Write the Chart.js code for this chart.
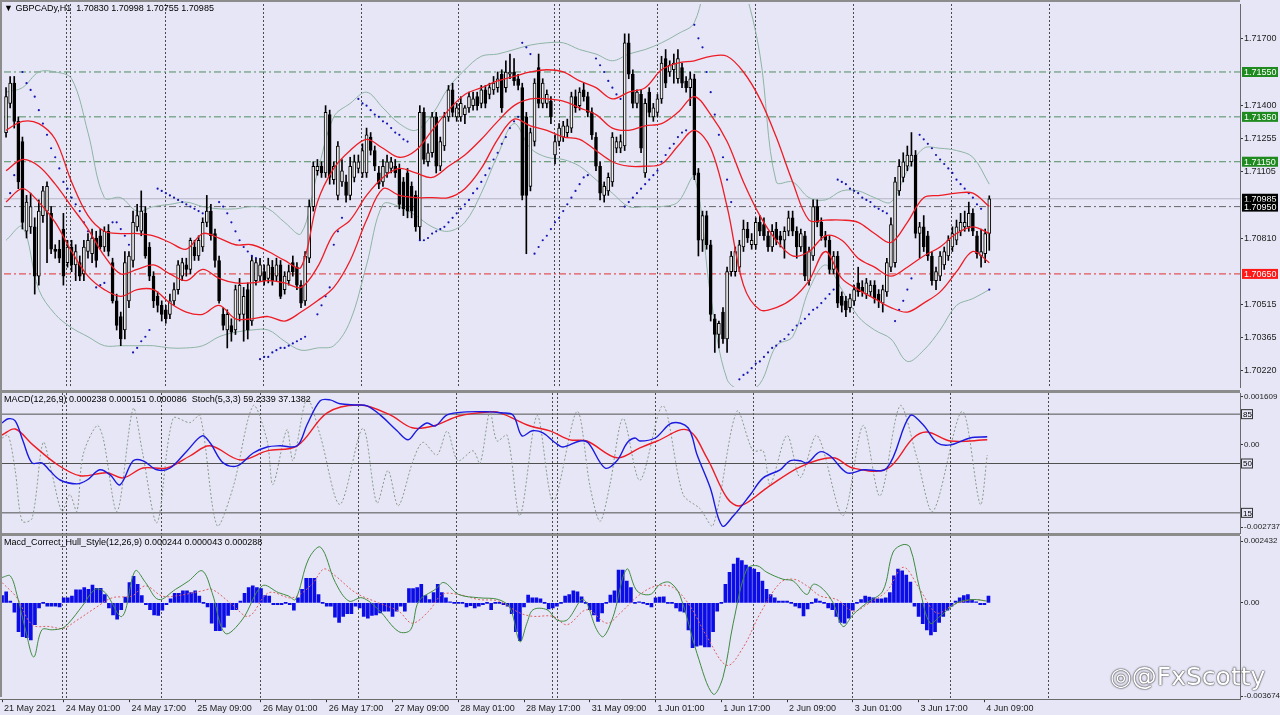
<!DOCTYPE html>
<html>
<head>
<meta charset="utf-8">
<script src="https://cdn.jsdelivr.net/npm/chart.js@4.4.0/dist/chart.umd.min.js"></script>
<style>
body { margin:0; background:#e6e6f6; width:1280px; height:715px; overflow:hidden; position:relative; font-family:'Liberation Sans', sans-serif; }
canvas { position:absolute; left:0; }
#c1 { top:0; } #c2 { top:393px; } #c3 { top:536px; }
.sep { position:absolute; left:0; width:1240px; height:2px; background:#8c8c8c; }
.ttl { position:absolute; left:4px; font-size:9px; color:#000; white-space:pre; z-index:5; }
#mark { position:absolute; left:1110px; top:662px; font-size:25px; color:#fff; font-family:'DejaVu Sans',sans-serif; text-shadow:0 0 2px #333, 0 0 1px #000; z-index:5; }
</style>
</head>
<body>
<div class="sep" style="top:0;height:2px"></div>
<div class="sep" style="top:390px;height:3px"></div>
<div class="sep" style="top:533px;height:3px"></div>
<div style="position:absolute;left:0;top:0;width:2px;height:697px;background:#8c8c8c;z-index:4"></div>
<canvas id="c1" width="1280" height="391"></canvas>
<canvas id="c2" width="1280" height="141"></canvas>
<canvas id="c3" width="1280" height="179"></canvas>
<div class="ttl" style="top:3px">▼ GBPCADy,H1  1.70830 1.70998 1.70755 1.70985</div>
<div class="ttl" style="top:394px">MACD(12,26,9) 0.000238 0.000151 0.000086  Stoch(5,3,3) 59.2339 37.1382</div>
<div class="ttl" style="top:537px">Macd_Correct_Hull_Style(12,26,9) 0.000244 0.000043 0.000288</div>
<div id="mark">◎@FxScotty</div>
<script>
// H1 candles [open, high, low, close], one per bar
const candles = [
[1.7128,1.7148,1.7126,1.7144],[1.7141,1.7153,1.7139,1.7150],[1.7150,1.7153,1.7130,1.7133],[1.7133,1.7135,1.7103,1.7106],[1.7124,1.7126,1.7085,1.7088],
[1.7084,1.7100,1.7081,1.7097],[1.7086,1.7101,1.7083,1.7095],[1.7086,1.7090,1.7056,1.7064],[1.7064,1.7098,1.7060,1.7093],[1.7091,1.7104,1.7088,1.7102],
[1.7093,1.7106,1.7070,1.7104],[1.7092,1.7095,1.7074,1.7076],[1.7076,1.7078,1.7072,1.7075],[1.7076,1.7080,1.7070,1.7072],[1.7085,1.7092,1.7060,1.7064],
[1.7070,1.7080,1.7068,1.7077],[1.7077,1.7080,1.7066,1.7069],[1.7069,1.7078,1.7062,1.7075],[1.7070,1.7073,1.7062,1.7064],[1.7065,1.7080,1.7062,1.7077],
[1.7075,1.7083,1.7072,1.7080],[1.7074,1.7085,1.7070,1.7081],[1.7081,1.7084,1.7068,1.7071],[1.7082,1.7085,1.7076,1.7077],[1.7077,1.7086,1.7075,1.7084],
[1.7084,1.7087,1.7073,1.7075],[1.7070,1.7072,1.7052,1.7053],[1.7053,1.7056,1.7040,1.7042],[1.7046,1.7048,1.7033,1.7036],[1.7040,1.7075,1.7036,1.7070],
[1.7053,1.7075,1.7050,1.7073],[1.7071,1.7093,1.7068,1.7088],[1.7086,1.7096,1.7084,1.7091],[1.7084,1.7102,1.7082,1.7093],[1.7092,1.7095,1.7072,1.7073],
[1.7077,1.7079,1.7062,1.7064],[1.7064,1.7066,1.7050,1.7053],[1.7055,1.7057,1.7048,1.7051],[1.7051,1.7053,1.7044,1.7047],[1.7049,1.7051,1.7043,1.7045],
[1.7047,1.7056,1.7045,1.7053],[1.7053,1.7061,1.7051,1.7058],[1.7058,1.7071,1.7056,1.7069],[1.7064,1.7072,1.7062,1.7070],[1.7069,1.7072,1.7064,1.7067],
[1.7067,1.7081,1.7065,1.7080],[1.7077,1.7080,1.7071,1.7073],[1.7073,1.7082,1.7071,1.7080],[1.7077,1.7090,1.7075,1.7088],[1.7088,1.7100,1.7086,1.7093],
[1.7093,1.7096,1.7080,1.7082],[1.7083,1.7085,1.7068,1.7071],[1.7071,1.7073,1.7052,1.7053],[1.7047,1.7050,1.7040,1.7042],[1.7040,1.7049,1.7032,1.7047],
[1.7042,1.7045,1.7035,1.7039],[1.7040,1.7060,1.7038,1.7058],[1.7047,1.7063,1.7044,1.7060],[1.7047,1.7059,1.7035,1.7055],[1.7058,1.7061,1.7036,1.7040],
[1.7044,1.7073,1.7042,1.7071],[1.7062,1.7072,1.7060,1.7070],[1.7064,1.7072,1.7062,1.7069],[1.7066,1.7069,1.7060,1.7062],[1.7063,1.7072,1.7061,1.7069],
[1.7068,1.7071,1.7060,1.7062],[1.7064,1.7072,1.7062,1.7069],[1.7069,1.7071,1.7054,1.7055],[1.7058,1.7066,1.7056,1.7064],[1.7062,1.7069,1.7060,1.7066],
[1.7070,1.7073,1.7064,1.7066],[1.7068,1.7070,1.7058,1.7060],[1.7060,1.7062,1.7050,1.7052],[1.7053,1.7075,1.7051,1.7073],[1.7072,1.7098,1.7070,1.7095],
[1.7095,1.7115,1.7093,1.7113],[1.7111,1.7116,1.7109,1.7113],[1.7113,1.7115,1.7108,1.7110],[1.7110,1.7140,1.7108,1.7137],[1.7136,1.7138,1.7105,1.7108],
[1.7107,1.7115,1.7105,1.7113],[1.7100,1.7124,1.7098,1.7122],[1.7106,1.7116,1.7104,1.7111],[1.7106,1.7109,1.7097,1.7100],[1.7100,1.7117,1.7098,1.7113],
[1.7108,1.7118,1.7106,1.7115],[1.7112,1.7118,1.7110,1.7115],[1.7110,1.7123,1.7108,1.7120],[1.7110,1.7130,1.7108,1.7127],[1.7126,1.7128,1.7118,1.7120],
[1.7120,1.7122,1.7111,1.7113],[1.7110,1.7113,1.7103,1.7105],[1.7106,1.7116,1.7104,1.7113],[1.7110,1.7118,1.7108,1.7115],[1.7112,1.7117,1.7110,1.7115],
[1.7113,1.7116,1.7108,1.7110],[1.7112,1.7114,1.7094,1.7096],[1.7106,1.7108,1.7091,1.7094],[1.7110,1.7112,1.7090,1.7093],[1.7104,1.7106,1.7090,1.7093],
[1.7100,1.7102,1.7084,1.7086],[1.7086,1.7140,1.7080,1.7137],[1.7137,1.7139,1.7114,1.7116],[1.7115,1.7123,1.7113,1.7119],[1.7119,1.7137,1.7117,1.7135],
[1.7135,1.7137,1.7110,1.7113],[1.7113,1.7126,1.7111,1.7124],[1.7122,1.7137,1.7120,1.7135],[1.7135,1.7149,1.7133,1.7147],[1.7147,1.7150,1.7135,1.7137],
[1.7135,1.7141,1.7133,1.7139],[1.7135,1.7144,1.7133,1.7141],[1.7136,1.7140,1.7132,1.7139],[1.7139,1.7146,1.7137,1.7144],[1.7140,1.7146,1.7138,1.7143],
[1.7144,1.7146,1.7138,1.7140],[1.7141,1.7149,1.7139,1.7147],[1.7147,1.7149,1.7139,1.7141],[1.7145,1.7150,1.7143,1.7148],[1.7147,1.7153,1.7145,1.7150],
[1.7148,1.7155,1.7146,1.7152],[1.7154,1.7156,1.7137,1.7139],[1.7148,1.7160,1.7146,1.7155],[1.7154,1.7163,1.7152,1.7155],[1.7155,1.7161,1.7149,1.7151],
[1.7152,1.7154,1.7147,1.7149],[1.7148,1.7150,1.7098,1.7100],[1.7135,1.7137,1.7074,1.7100],[1.7104,1.7130,1.7102,1.7128],[1.7124,1.7152,1.7122,1.7150],
[1.7157,1.7163,1.7139,1.7141],[1.7141,1.7152,1.7139,1.7150],[1.7141,1.7147,1.7139,1.7145],[1.7142,1.7144,1.7132,1.7135],[1.7118,1.7127,1.7114,1.7124],
[1.7124,1.7132,1.7122,1.7130],[1.7126,1.7133,1.7124,1.7131],[1.7128,1.7134,1.7126,1.7131],[1.7130,1.7146,1.7128,1.7144],[1.7144,1.7147,1.7137,1.7139],
[1.7140,1.7148,1.7138,1.7146],[1.7147,1.7150,1.7142,1.7144],[1.7144,1.7146,1.7135,1.7137],[1.7137,1.7139,1.7125,1.7127],[1.7126,1.7128,1.7111,1.7113],
[1.7113,1.7115,1.7098,1.7101],[1.7100,1.7106,1.7097,1.7104],[1.7102,1.7110,1.7100,1.7108],[1.7106,1.7128,1.7104,1.7126],[1.7121,1.7126,1.7119,1.7124],
[1.7121,1.7127,1.7119,1.7124],[1.7122,1.7172,1.7120,1.7168],[1.7168,1.7172,1.7152,1.7154],[1.7154,1.7156,1.7139,1.7141],[1.7141,1.7147,1.7139,1.7146],
[1.7145,1.7147,1.7119,1.7121],[1.7110,1.7143,1.7108,1.7141],[1.7146,1.7148,1.7135,1.7137],[1.7135,1.7141,1.7133,1.7139],[1.7137,1.7145,1.7135,1.7143],
[1.7143,1.7162,1.7141,1.7159],[1.7161,1.7165,1.7148,1.7150],[1.7155,1.7160,1.7153,1.7158],[1.7156,1.7163,1.7150,1.7159],[1.7152,1.7165,1.7150,1.7161],
[1.7157,1.7159,1.7148,1.7150],[1.7151,1.7153,1.7146,1.7148],[1.7148,1.7155,1.7140,1.7152],[1.7152,1.7154,1.7107,1.7109],[1.7110,1.7112,1.7073,1.7080],
[1.7080,1.7093,1.7075,1.7091],[1.7091,1.7093,1.7076,1.7078],[1.7078,1.7080,1.7044,1.7047],[1.7045,1.7047,1.7030,1.7038],[1.7038,1.7044,1.7032,1.7043],
[1.7048,1.7050,1.7034,1.7036],[1.7036,1.7068,1.7030,1.7066],[1.7066,1.7075,1.7064,1.7073],[1.7066,1.7077,1.7064,1.7075],[1.7068,1.7080,1.7066,1.7078],
[1.7077,1.7089,1.7075,1.7085],[1.7085,1.7088,1.7079,1.7081],[1.7078,1.7083,1.7076,1.7080],[1.7078,1.7090,1.7076,1.7088],[1.7088,1.7091,1.7082,1.7084],
[1.7087,1.7090,1.7080,1.7082],[1.7082,1.7084,1.7075,1.7077],[1.7077,1.7087,1.7075,1.7084],[1.7085,1.7088,1.7078,1.7080],[1.7082,1.7084,1.7077,1.7080],
[1.7080,1.7086,1.7072,1.7084],[1.7084,1.7093,1.7082,1.7090],[1.7090,1.7093,1.7082,1.7084],[1.7084,1.7086,1.7072,1.7077],[1.7077,1.7085,1.7075,1.7083],
[1.7082,1.7084,1.7062,1.7064],[1.7062,1.7077,1.7060,1.7075],[1.7073,1.7098,1.7071,1.7095],[1.7095,1.7098,1.7086,1.7088],[1.7088,1.7090,1.7080,1.7082],
[1.7082,1.7084,1.7077,1.7080],[1.7080,1.7082,1.7065,1.7067],[1.7067,1.7075,1.7065,1.7073],[1.7073,1.7075,1.7050,1.7052],[1.7055,1.7057,1.7048,1.7051],
[1.7053,1.7055,1.7046,1.7049],[1.7050,1.7056,1.7048,1.7054],[1.7053,1.7060,1.7051,1.7058],[1.7061,1.7068,1.7055,1.7057],[1.7059,1.7062,1.7055,1.7057],
[1.7056,1.7063,1.7054,1.7061],[1.7057,1.7062,1.7055,1.7060],[1.7060,1.7062,1.7052,1.7054],[1.7056,1.7058,1.7050,1.7053],[1.7052,1.7060,1.7048,1.7058],
[1.7057,1.7072,1.7055,1.7070],[1.7068,1.7090,1.7066,1.7087],[1.7070,1.7108,1.7068,1.7106],[1.7102,1.7116,1.7100,1.7113],[1.7108,1.7119,1.7106,1.7115],
[1.7113,1.7122,1.7111,1.7118],[1.7115,1.7128,1.7113,1.7118],[1.7118,1.7120,1.7081,1.7083],[1.7083,1.7088,1.7072,1.7086],[1.7086,1.7091,1.7075,1.7077],
[1.7082,1.7084,1.7071,1.7073],[1.7073,1.7075,1.7060,1.7062],[1.7062,1.7068,1.7058,1.7066],[1.7064,1.7075,1.7062,1.7073],[1.7069,1.7077,1.7067,1.7075],
[1.7073,1.7082,1.7071,1.7080],[1.7077,1.7086,1.7075,1.7083],[1.7080,1.7089,1.7078,1.7086],[1.7084,1.7092,1.7082,1.7088],[1.7086,1.7093,1.7084,1.7088],
[1.7086,1.7097,1.7084,1.7092],[1.7092,1.7094,1.7082,1.7084],[1.7082,1.7084,1.7072,1.7074],[1.7073,1.7085,1.7068,1.7075],[1.7074,1.7085,1.7070,1.7083],
[1.70830,1.70998,1.70755,1.70985]
];

// indicator lines read every 4 bars
const sampleBars = [0,4,8,12,16,20,24,28,32,36,40,44,48,52,56,60,64,68,72,76,80,84,88,92,96,100,104,108,112,116,120,124,128,132,136,140,144,148,152,156,160,164,168,172,176,180,184,188,192,196,200,204,208,212,216,220,224,228,232,236,240];
const redUpper = [1.7129,1.7133,1.7132,1.7125,1.7106,1.7091,1.7084,1.7083,1.7083,1.7082,1.7079,1.7076,1.7083,1.7081,1.7078,1.7078,1.7075,1.7071,1.7068,1.7097,1.7112,1.7120,1.7125,1.7121,1.7117,1.7120,1.7129,1.7138,1.7145,1.7148,1.7151,1.7153,1.7155,1.7156,1.7155,1.7151,1.7148,1.7143,1.7146,1.7148,1.7156,1.7159,1.7160,1.7162,1.7162,1.7155,1.7143,1.7126,1.7106,1.7089,1.7089,1.7089,1.7088,1.7083,1.7079,1.7088,1.7099,1.7100,1.7101,1.7101,1.7095];
const redMiddle = [1.7111,1.7116,1.7113,1.7105,1.7095,1.7085,1.7073,1.7065,1.7067,1.7069,1.7065,1.7062,1.7067,1.7063,1.7061,1.7061,1.7062,1.7061,1.7059,1.7068,1.7083,1.7089,1.7100,1.7108,1.7112,1.7110,1.7108,1.7113,1.7118,1.7125,1.7133,1.7140,1.7143,1.7143,1.7142,1.7139,1.7136,1.7130,1.7129,1.7131,1.7132,1.7137,1.7144,1.7136,1.7124,1.7106,1.7091,1.7080,1.7073,1.7075,1.7082,1.7080,1.7072,1.7068,1.7064,1.7068,1.7073,1.7077,1.7083,1.7086,1.7083];
const redLower = [1.7097,1.7103,1.7097,1.7088,1.7075,1.7064,1.7058,1.7055,1.7058,1.7058,1.7052,1.7048,1.7047,1.7051,1.7045,1.7045,1.7046,1.7044,1.7048,1.7053,1.7059,1.7071,1.7089,1.7103,1.7100,1.7099,1.7099,1.7099,1.7103,1.7112,1.7125,1.7134,1.7131,1.7129,1.7126,1.7125,1.7120,1.7115,1.7113,1.7113,1.7114,1.7122,1.7129,1.7121,1.7095,1.7060,1.7049,1.7050,1.7054,1.7062,1.7075,1.7063,1.7058,1.7054,1.7050,1.7048,1.7052,1.7057,1.7066,1.7075,1.7070];
const bandUpper = [1.7146,1.7148,1.7155,1.7155,1.7152,1.7128,1.7099,1.7099,1.7093,1.7095,1.7096,1.7097,1.7095,1.7094,1.7094,1.7095,1.7094,1.7088,1.7083,1.7110,1.7135,1.7141,1.7146,1.7139,1.7132,1.7129,1.7136,1.7148,1.7156,1.7162,1.7163,1.7165,1.7167,1.7168,1.7168,1.7165,1.7163,1.7160,1.7163,1.7165,1.7168,1.7172,1.7177,1.7203,1.7212,1.7194,1.7163,1.7106,1.7106,1.7099,1.7098,1.7102,1.7102,1.7099,1.7097,1.7111,1.7121,1.7121,1.7120,1.7117,1.7105];
const bandLower = [1.7080,1.7086,1.7058,1.7047,1.7041,1.7037,1.7033,1.7033,1.7033,1.7033,1.7032,1.7032,1.7033,1.7037,1.7039,1.7040,1.7040,1.7035,1.7031,1.7032,1.7033,1.7044,1.7069,1.7096,1.7095,1.7091,1.7086,1.7084,1.7088,1.7101,1.7118,1.7132,1.7121,1.7117,1.7116,1.7113,1.7107,1.7101,1.7095,1.7095,1.7095,1.7097,1.7108,1.7055,1.7018,1.7013,1.7016,1.7033,1.7037,1.7058,1.7069,1.7058,1.7046,1.7040,1.7036,1.7026,1.7031,1.7040,1.7051,1.7054,1.7058];

// parabolic SAR: [first bar, dots...]
const sarSegments = [
[1,[1.7101,1.7109]],
[4,[1.7155,1.7150,1.7147,1.7144,1.7138,1.7132,1.7127,1.7121,1.7117,1.7112,1.7106,1.7103,1.7099,1.7096,1.7093,1.7088,1.7084]],
[22,[1.7059,1.7060,1.7061]],
[26,[1.7088,1.7088,1.7085,1.7082,1.7078]],
[31,[1.7030,1.7032,1.7035,1.7037,1.7040]],
[37,[1.7103,1.7102,1.7101,1.7100,1.7099,1.7098,1.7097,1.7096,1.7095,1.7094,1.7093,1.7092]],
[52,[1.7097,1.7095,1.7092,1.7088,1.7084,1.7080,1.7077,1.7075,1.7073,1.7072]],
[62,[1.7027,1.7028,1.7028,1.7030,1.7031,1.7032,1.7032,1.7033,1.7034,1.7035,1.7036,1.7037]],
[76,[1.7047,1.7051,1.7055,1.7059,1.7078,1.7084,1.7090]],
[86,[1.7143,1.7141,1.7140,1.7138,1.7136,1.7135,1.7133,1.7132,1.7130,1.7128,1.7127,1.7125,1.7124]],
[101,[1.7080,1.7080,1.7081,1.7083,1.7084,1.7085,1.7086,1.7088,1.7090,1.7092,1.7094,1.7096,1.7098,1.7101,1.7103,1.7106,1.7109,1.7112,1.7116,1.7119,1.7123,1.7126,1.7130,1.7133,1.7135]],
[126,[1.7168,1.7166,1.7163]],
[129,[1.7074,1.7077,1.7080,1.7082,1.7085,1.7088,1.7090,1.7093,1.7096,1.7099,1.7102,1.7105,1.7108,1.7109]],
[144,[1.7161,1.7158,1.7155,1.7151,1.7148,1.7145,1.7143]],
[151,[1.7095,1.7097,1.7099,1.7101,1.7103,1.7105,1.7107,1.7109,1.7111,1.7115,1.7118,1.7121,1.7123,1.7126,1.7128,1.7129]],
[168,[1.7176,1.7170,1.7166,1.7155,1.7146,1.7136,1.7127,1.7117,1.7107,1.7097]],
[179,[1.7018,1.7020,1.7021,1.7023,1.7025,1.7026,1.7028,1.7030,1.7032,1.7033,1.7035,1.7036,1.7038,1.7040,1.7042,1.7043,1.7045,1.7047,1.7049,1.7050,1.7052,1.7054,1.7056,1.7058]],
[203,[1.7107,1.7106,1.7105,1.7103,1.7102,1.7101,1.7099,1.7098,1.7097,1.7095,1.7094,1.7093,1.7092]],
[217,[1.7044,1.7049,1.7053,1.7058,1.7063]],
[223,[1.7127,1.7125,1.7123,1.7121,1.7118,1.7116,1.7114,1.7112,1.7110,1.7107,1.7105,1.7103,1.7101,1.7099,1.7096,1.7094]],
[240,[1.7058]]
];

const hLevels = [1.7155,1.7135,1.7115,1.7095,1.7065];
const hLevelColors = ['#4f8f5f','#4f8f5f','#4f8f5f','#666666','#e03030'];
const bidPrice = 1.70985;
const boxLevels = [1.7155,1.7135,1.7115,1.70985,1.7095,1.7065];
const boxColors = ['#1f8a1f','#1f8a1f','#1f8a1f','#000000','#000000','#ff1818'];
const priceTicks = [1.7170,1.7140,1.71255,1.71105,1.7081,1.70515,1.70365,1.7022];

// MACD panel: [bar, value]
const macdMain = [[0,0.00073],[1.5,0.00087],[3.2,0.00080],[5.1,0.00013],[7.3,-0.00060],[9.7,-0.00060],[11.7,-0.00087],[14.1,-0.00117],[18.2,-0.00130],[20.7,-0.00117],[23.8,-0.00083],[26.3,-0.00100],[28.7,-0.00133],[31.9,-0.00053],[34.3,-0.00053],[37.7,-0.00083],[40.9,-0.00077],[45,-0.00020],[48.7,0.00030],[50.6,0.00007],[53.8,-0.00060],[57.2,-0.00070],[61.1,-0.00027],[64.5,-0.00007],[67.6,-0.00003],[71.8,-0.00003],[74.2,0.00067],[77.4,0.00147],[79.8,0.00150],[82.2,0.00137],[86.4,0.00133],[88.8,0.00130],[92,0.00100],[96.1,0.00047],[98.8,0.00017],[101,0.00050],[103.4,0.00073],[105.4,0.00063],[108.3,0.00100],[113.1,0.00110],[118.7,0.00110],[121.2,0.00107],[124.3,0.00100],[126.5,0.00030],[129,0.00047],[131.6,0.00040],[134.6,0.00007],[136.5,-0.00007],[140.6,0.00013],[142.6,0.00007],[146.7,-0.00077],[149.6,-0.00053],[152.1,0.00007],[154,0.00023],[155.2,0.00013],[158.9,0.00023],[163,0.00073],[166.9,0.00057],[169.1,-0.00033],[172.3,-0.00143],[175.2,-0.00270],[177.9,-0.00237],[182,-0.00167],[185.2,-0.00110],[189.3,-0.00083],[191.7,-0.00053],[194.2,-0.00053],[195.9,-0.00060],[199,-0.00023],[201.5,-0.00037],[205.6,-0.00093],[209.5,-0.00083],[215.3,-0.00077],[220.9,0.00097],[224.1,0.00067],[227.5,0.00007],[230.7,0.00000],[235.5,0.00023],[239.7,0.00027]];
const macdSignal = [[0,0.00033],[3.2,0.00053],[7.5,0],[13.6,-0.00067],[19,-0.00103],[25.5,-0.00093],[29.4,-0.00110],[34.3,-0.00077],[40.1,-0.00077],[45.7,-0.00037],[50.6,-0.00003],[57.9,-0.00050],[64.5,-0.00020],[71.8,-0.00003],[79.1,0.00107],[87.1,0.00133],[94.4,0.00100],[99.8,0.00057],[104.9,0.00063],[111.4,0.00097],[118.7,0.00110],[121.2,0.00107],[128.5,0.00063],[133.3,0.00047],[138.2,0.00017],[142.3,0.00013],[149.6,-0.00043],[155.2,-0.00010],[159.4,0.00013],[166.7,0.00050],[171.5,-0.00043],[176.4,-0.00177],[179.6,-0.00203],[186.1,-0.00143],[194.2,-0.00073],[202.2,-0.00043],[207,-0.00077],[215.3,-0.00080],[221.7,0.00023],[225.1,0.00043],[230.7,0.00013],[239.7,0.00017]];
const stochMain = [[0,68],[1.5,70],[3.2,45],[4.9,9],[7.3,11],[10,65],[12.2,42],[14.6,16],[16.5,28],[18.2,16],[19.7,56],[23.1,77],[24.6,68],[28,16],[31.9,89],[34.1,59],[37.7,8],[41.6,82],[45.7,79],[48.2,84],[52.3,6],[56.2,33],[61.1,91],[64.5,66],[65.9,35],[69.3,74],[70.8,52],[74.2,96],[77.4,70],[82.2,21],[87.8,75],[91.2,22],[93.9,45],[96.4,20],[100,52],[102.4,65],[105.8,56],[108.3,73],[110.9,52],[114.6,59],[116.3,50],[118.7,87],[120.4,66],[122.9,70],[126,13],[130.2,84],[134.1,23],[139.9,87],[143.1,33],[145.5,9],[147.9,35],[151.1,82],[155.2,38],[160.8,91],[165.7,28],[169.8,18],[173,6],[178.8,87],[182.7,59],[185.2,59],[186.9,35],[191,70],[194.2,40],[198.3,70],[204.6,13],[209.5,77],[213.6,27],[218.5,91],[222.6,54],[226.5,16],[233.6,87],[238,21],[239.7,56]];
const stochLevels = [85,50,15];

// Hull MACD panel histogram, one value per bar
const hullHist = [0.00029,0.00043,0.00007,-0.00037,-0.00113,-0.00133,-0.00137,-0.00146,-0.00086,-0.00020,0,-0.00013,-0.00013,-0.00013,-0.00016,0.00020,0.00020,0.00027,0.00051,0.00051,0.00060,0.00053,0.00070,0.00057,0.00057,0.00033,-0.00020,-0.00047,-0.00064,-0.00027,0.00023,0.00080,0.00104,0.00073,0.00029,-0.00007,-0.00027,-0.00047,-0.00049,-0.00029,-0.00007,0.00016,0.00037,0.00037,0.00047,0.00047,0.00040,0.00047,0.00027,0,-0.00016,-0.00080,-0.00109,-0.00109,-0.00096,-0.00049,-0.00027,-0.00027,0.00007,0.00037,0.00060,0.00067,0.00060,0.00056,0.00029,0.00027,-0.00007,-0.00007,-0.00007,0,-0.00007,-0.00029,0.00020,0.00053,0.00096,0.00096,0.00096,0.00033,0,-0.00013,-0.00013,-0.00056,-0.00077,-0.00053,-0.00043,-0.00043,-0.00013,-0.00020,-0.00053,-0.00060,-0.00049,-0.00047,-0.00040,-0.00033,-0.00033,-0.00053,-0.00033,-0.00013,-0.00033,0.00056,0.00056,0.00060,0.00073,0.00029,0.00013,0.00040,0.00073,0.00040,0.00020,0.00003,0,0,0,-0.00016,-0.00011,-0.00020,-0.00013,-0.00007,0,-0.00027,
0,0,-0.00007,-0.00013,-0.00043,-0.00113,-0.00149,-0.00016,0.00031,0.00020,0.00020,0.00016,0,-0.00024,-0.00020,-0.00013,0,0.00027,0.00033,0.00047,0.00043,0.00024,0,-0.00027,-0.00047,-0.00073,-0.00040,0,0.00031,0.00047,0.00129,0.00129,0.00086,0.00060,0,0.00003,0,-0.00007,-0.00016,0.00020,0.00023,0.00024,0,0,-0.00020,-0.00033,-0.00037,-0.00106,-0.00176,-0.00170,-0.00166,-0.00173,-0.00173,-0.00113,-0.00033,0,0.00073,0.00120,0.00153,0.00176,0.00166,0.00149,0.00140,0.00133,0.00120,0.00086,0.00053,0.00033,0.00020,0.00007,0.00007,0.00007,0,-0.00013,-0.00020,-0.00051,-0.00024,0,0.00016,0.00007,0,-0.00020,-0.00027,-0.00053,-0.00077,-0.00080,-0.00060,-0.00029,0,0.00013,0.00027,0.00023,0.00020,0.00016,0.00016,0.00020,0.00040,0.00106,0.00133,0.00126,0.00109,0.00082,-0.00013,-0.00053,-0.00082,-0.00106,-0.00126,-0.00113,-0.00077,-0.00053,-0.00029,-0.00013,0.00007,0.00020,0.00029,0.00033,0.00013,0.00003,-0.00007,-0.00007,0.00027];
const hullLine = [[0,0.00100],[2,0.00106],[3.6,0.00033],[5.7,-0.00106],[7.7,-0.00213],[9.7,-0.00106],[12.2,-0.00106],[14.6,-0.00100],[16.2,-0.00080],[19.5,-0.00013],[22.7,0.00053],[25.1,0.00040],[29.2,-0.00053],[32.4,0.00126],[34.9,0.00080],[38.1,0.00013],[42.2,0.00053],[45.4,0.00086],[48.7,0.00126],[51.1,0.00040],[54.3,-0.00120],[58.4,-0.00067],[63.3,0.00067],[67.3,0.00040],[69.7,0.00027],[71.4,0.00013],[74.6,0.00173],[77.5,0.00219],[81.1,0.00080],[84.4,0.00007],[87.6,0.00020],[91.6,-0.00027],[96.5,-0.00113],[99.4,-0.00106],[101.4,0.00007],[105.4,0.00053],[107.5,0.00080],[111.1,0.00033],[116,0.00020],[120.8,0.00013],[123.6,-0.00020],[126,-0.00153],[127.7,-0.00080],[129.2,-0.00027],[132.6,-0.00027],[135,-0.00067],[137.5,-0.00067],[141.4,0.00013],[144.7,-0.00106],[146.3,-0.00133],[148.7,-0.00053],[152,0.00133],[154.5,0.00047],[157.7,0.00033],[160.1,0.00073],[162.5,0.00080],[165,0.00027],[169.1,-0.00200],[173,-0.00359],[175.4,-0.00293],[177.9,-0.00080],[181.2,0.00133],[183.7,0.00146],[186.1,0.00120],[190,0.00093],[192.5,0.00086],[195.8,0.00033],[197.4,0.00073],[199.8,0.00053],[202.2,0],[204.6,-0.00093],[207,-0.00047],[210.4,0],[214.3,0.00047],[216.8,0.00200],[219.2,0.00229],[220.9,0.00219],[223.3,0.00053],[225.8,-0.00080],[228.2,-0.00053],[232.3,0],[236.3,0.00013],[239.6,0.00007]];
const hullSignal = [[0,0.00080],[3.6,0.00020],[7.3,-0.00086],[11.4,-0.00093],[15,-0.00100],[17.8,-0.00073],[22.7,-0.00020],[26.8,0.00020],[31.6,0.00027],[34.9,0.00067],[38.9,0.00027],[42.2,0.00027],[48.7,0.00047],[51.1,0.00053],[56,-0.00007],[60,-0.00053],[64.9,0.00040],[70.6,0.00020],[75.4,0.00073],[78.3,0.00133],[81.1,0.00106],[86,0.00040],[91.6,0],[96.5,-0.00033],[99.8,-0.00080],[103.8,-0.00033],[107.1,0.00033],[111.1,0.00033],[116,0.00013],[120.8,0.00007],[126,-0.00040],[129.2,-0.00053],[134,-0.00053],[137.5,-0.00086],[142.3,-0.00027],[147.2,-0.00080],[150.4,-0.00040],[155.2,0.00033],[159.3,0.00067],[163.3,0.00060],[167.4,-0.00013],[171.5,-0.00133],[176.4,-0.00246],[180.4,-0.00173],[184.5,-0.00040],[189.4,0.00080],[192.6,0.00093],[195.8,0.00067],[199.1,0.00027],[203.1,0.00013],[207.1,-0.00033],[210.4,-0.00007],[215.3,0.00047],[219.3,0.00140],[223.3,0.00053],[227.4,-0.00040],[231.5,-0.00007],[236.3,0.00013],[239.6,0.00007]];

// time axis
const timeTickBars = [0,15,31,47,63,79,95,111,127,143,159,175,191,207,223,239];
const timeLabels = ['21 May 2021','24 May 01:00','24 May 17:00','25 May 09:00','26 May 01:00','26 May 17:00','27 May 09:00','28 May 01:00','28 May 17:00','31 May 09:00','1 Jun 01:00','1 Jun 17:00','2 Jun 09:00','3 Jun 01:00','3 Jun 17:00','4 Jun 09:00'];
const daySeparators = [14.6,15.6,38.7,62.8,86.6,110.4,133.8,135.0,158.9,182.7,206.8,230.6,254.5];

const X_MIN = -0.5, X_MAX = 301.2;
const FONT = { family: "'Liberation Sans', sans-serif", size: 9 };

const sepPlugin = {
  id: 'daysep',
  beforeDatasetsDraw(chart) {
    const { ctx, chartArea: a, scales: { x } } = chart;
    ctx.save();
    ctx.strokeStyle = '#4a4a4a';
    ctx.lineWidth = 1;
    ctx.setLineDash([2, 2]);
    daySeparators.forEach(b => {
      const px = Math.round(x.getPixelForValue(b)) + 0.5;
      ctx.beginPath(); ctx.moveTo(px, a.top); ctx.lineTo(px, a.bottom); ctx.stroke();
    });
    ctx.restore();
  }
};

function yAxis(min, max, ticks, fmt, size) {
  return {
    position: 'right', min: min, max: max,
    afterFit: s => { s.width = 40; s.paddingTop = 0; s.paddingBottom = 0; },
    afterBuildTicks: s => { s.ticks = ticks.map(v => ({ value: v })); },
    grid: { drawOnChartArea: false, drawTicks: true, tickLength: 3, color: '#333' },
    border: { display: true, color: '#6a6a6a' },
    ticks: { font: { family: FONT.family, size: size || 9 }, color: '#222', padding: 1, callback: fmt }
  };
}

function hiddenX() {
  return { type: 'linear', min: X_MIN, max: X_MAX, offset: false, display: false };
}

function line(data, color, width, extra) {
  return Object.assign({ type: 'line', data: data, borderColor: color, borderWidth: width,
    pointRadius: 0, tension: 0.35, fill: false }, extra || {});
}

const common = {
  responsive: false, animation: false, devicePixelRatio: 1,
  layout: { padding: 0 },
  plugins: { legend: { display: false }, tooltip: { enabled: false } }
};

// ---- main price panel ----
const pts = arr => sampleBars.map((b, i) => ({ x: b, y: arr[i] }));
const sarDots = [];
sarSegments.forEach(([start, vals]) => vals.forEach((v, i) => sarDots.push({ x: start + i, y: v })));

const mainSets = [
  line(pts(bandUpper), '#8fb4a4', 1, { order: 3 }),
  line(pts(bandLower), '#8fb4a4', 1, { order: 3 }),
  line([{ x: X_MIN, y: bidPrice }, { x: X_MAX, y: bidPrice }], '#b4b4c4', 1, { order: 4, tension: 0 })
];
hLevels.forEach((lv, i) => mainSets.push(
  line([{ x: X_MIN, y: lv }, { x: X_MAX, y: lv }], hLevelColors[i], 1, { order: 4, tension: 0, borderDash: [7, 3, 2, 3] })));
mainSets.push(
  { type: 'bar', data: candles.map((c, i) => ({ x: i, y: [c[2], c[1]] })), backgroundColor: '#000', barThickness: 1, grouped: false, order: 2 },
  { type: 'bar', data: candles.map((c, i) => ({ x: i, y: [c[0], c[3]] })),
    backgroundColor: candles.map(c => c[3] >= c[0] ? '#f0f0f0' : '#000'),
    borderColor: '#000', borderWidth: 1, borderSkipped: false, barThickness: 3, minBarLength: 1, grouped: false, order: 1 },
  line(pts(redUpper), '#ee1c24', 1.3, { order: 0 }),
  line(pts(redMiddle), '#ee1c24', 1.3, { order: 0 }),
  line(pts(redLower), '#ee1c24', 1.3, { order: 0 }),
  { type: 'line', data: sarDots, showLine: false, pointRadius: 1.1, pointBackgroundColor: '#1414b4', pointBorderWidth: 0, order: 0 }
);

const boxPlugin = {
  id: 'boxes',
  afterDraw(chart) {
    const { ctx, scales: { y }, chartArea: a } = chart;
    ctx.save();
    ctx.font = "9px 'Liberation Sans', sans-serif";
    ctx.textBaseline = 'middle';
    boxLevels.forEach((lv, i) => {
      const py = y.getPixelForValue(lv);
      ctx.fillStyle = boxColors[i];
      ctx.fillRect(a.right + 2, py - 5, 36, 10);
      ctx.fillStyle = '#fff';
      ctx.fillText(lv.toFixed(5), a.right + 4, py + 0.5);
    });
    ctx.restore();
  }
};

new Chart(document.getElementById('c1'), {
  type: 'bar',
  data: { datasets: mainSets },
  options: Object.assign({}, common, {
    scales: {
      x: hiddenX(),
      y: yAxis(1.70146, 1.71853, priceTicks, v => v.toFixed(5))
    }
  }),
  plugins: [sepPlugin, boxPlugin]
});

// ---- MACD + Stochastic panel ----
const xy = arr => arr.map(p => ({ x: p[0], y: p[1] }));
const stochSets = stochLevels.map(lv =>
  line([{ x: X_MIN, y: lv }, { x: X_MAX, y: lv }], '#505050', 1, { yAxisID: 'ys', tension: 0, order: 3 }));
const levelBoxPlugin = {
  id: 'lvlboxes',
  afterDraw(chart) {
    const { ctx, scales: { ys }, chartArea: a } = chart;
    ctx.save();
    ctx.font = "8px 'Liberation Sans', sans-serif";
    ctx.textBaseline = 'middle';
    stochLevels.forEach(lv => {
      const py = ys.getPixelForValue(lv);
      ctx.fillStyle = '#e6e6f6';
      ctx.fillRect(a.right + 1, py - 5, 12, 10);
      ctx.strokeStyle = '#333';
      ctx.strokeRect(a.right + 1.5, py - 4.5, 11, 9);
      ctx.fillStyle = '#000';
      ctx.fillText(String(lv), a.right + 3, py + 0.5);
    });
    ctx.restore();
  }
};
new Chart(document.getElementById('c2'), {
  type: 'line',
  data: { datasets: stochSets.concat([
    line(xy(stochMain), '#8a9a8a', 1, { yAxisID: 'ys', borderDash: [2, 2], order: 2, tension: 0.3 }),
    line(xy(macdSignal), '#ee1c24', 1.4, { order: 1 }),
    line(xy(macdMain), '#1a1ae0', 1.4, { order: 0 })
  ]) },
  options: Object.assign({}, common, {
    scales: {
      x: hiddenX(),
      y: yAxis(-0.00297, 0.00173, [0.001609, 0, -0.002737], v => v === 0 ? '0.00' : v.toFixed(6), 8),
      ys: { min: 0, max: 100, display: false }
    }
  }),
  plugins: [sepPlugin, levelBoxPlugin]
});

// ---- Hull MACD panel ----
new Chart(document.getElementById('c3'), {
  type: 'bar',
  data: { datasets: [
    line(xy(hullSignal), '#e06060', 1, { borderDash: [2, 2], order: 1 }),
    line(xy(hullLine), '#3f8a3f', 1, { order: 0 }),
    { type: 'bar', data: hullHist.map((v, i) => ({ x: i, y: v })), backgroundColor: '#0c0ce6',
      barThickness: 3, minBarLength: 1, grouped: false, order: 2 }
  ] },
  options: Object.assign({}, common, {
    scales: {
      x: {
        type: 'linear', min: X_MIN, max: X_MAX, offset: false,
        afterBuildTicks: s => { s.ticks = timeTickBars.map(v => ({ value: v })); },
        grid: { drawOnChartArea: false, drawTicks: true, tickLength: 3, color: '#333', offset: false },
        border: { display: true, color: '#6a6a6a' },
        ticks: { font: FONT, color: '#222', align: 'start', maxRotation: 0, autoSkip: false, padding: 1, labelOffset: 2,
          callback: (v, i) => timeLabels[i] }
      },
      y: yAxis(-0.00379, 0.00263, [0.002432, 0, -0.003674], v => v === 0 ? '0.00' : v.toFixed(6), 8)
    }
  }),
  plugins: [sepPlugin]
});
</script>
</body>
</html>
